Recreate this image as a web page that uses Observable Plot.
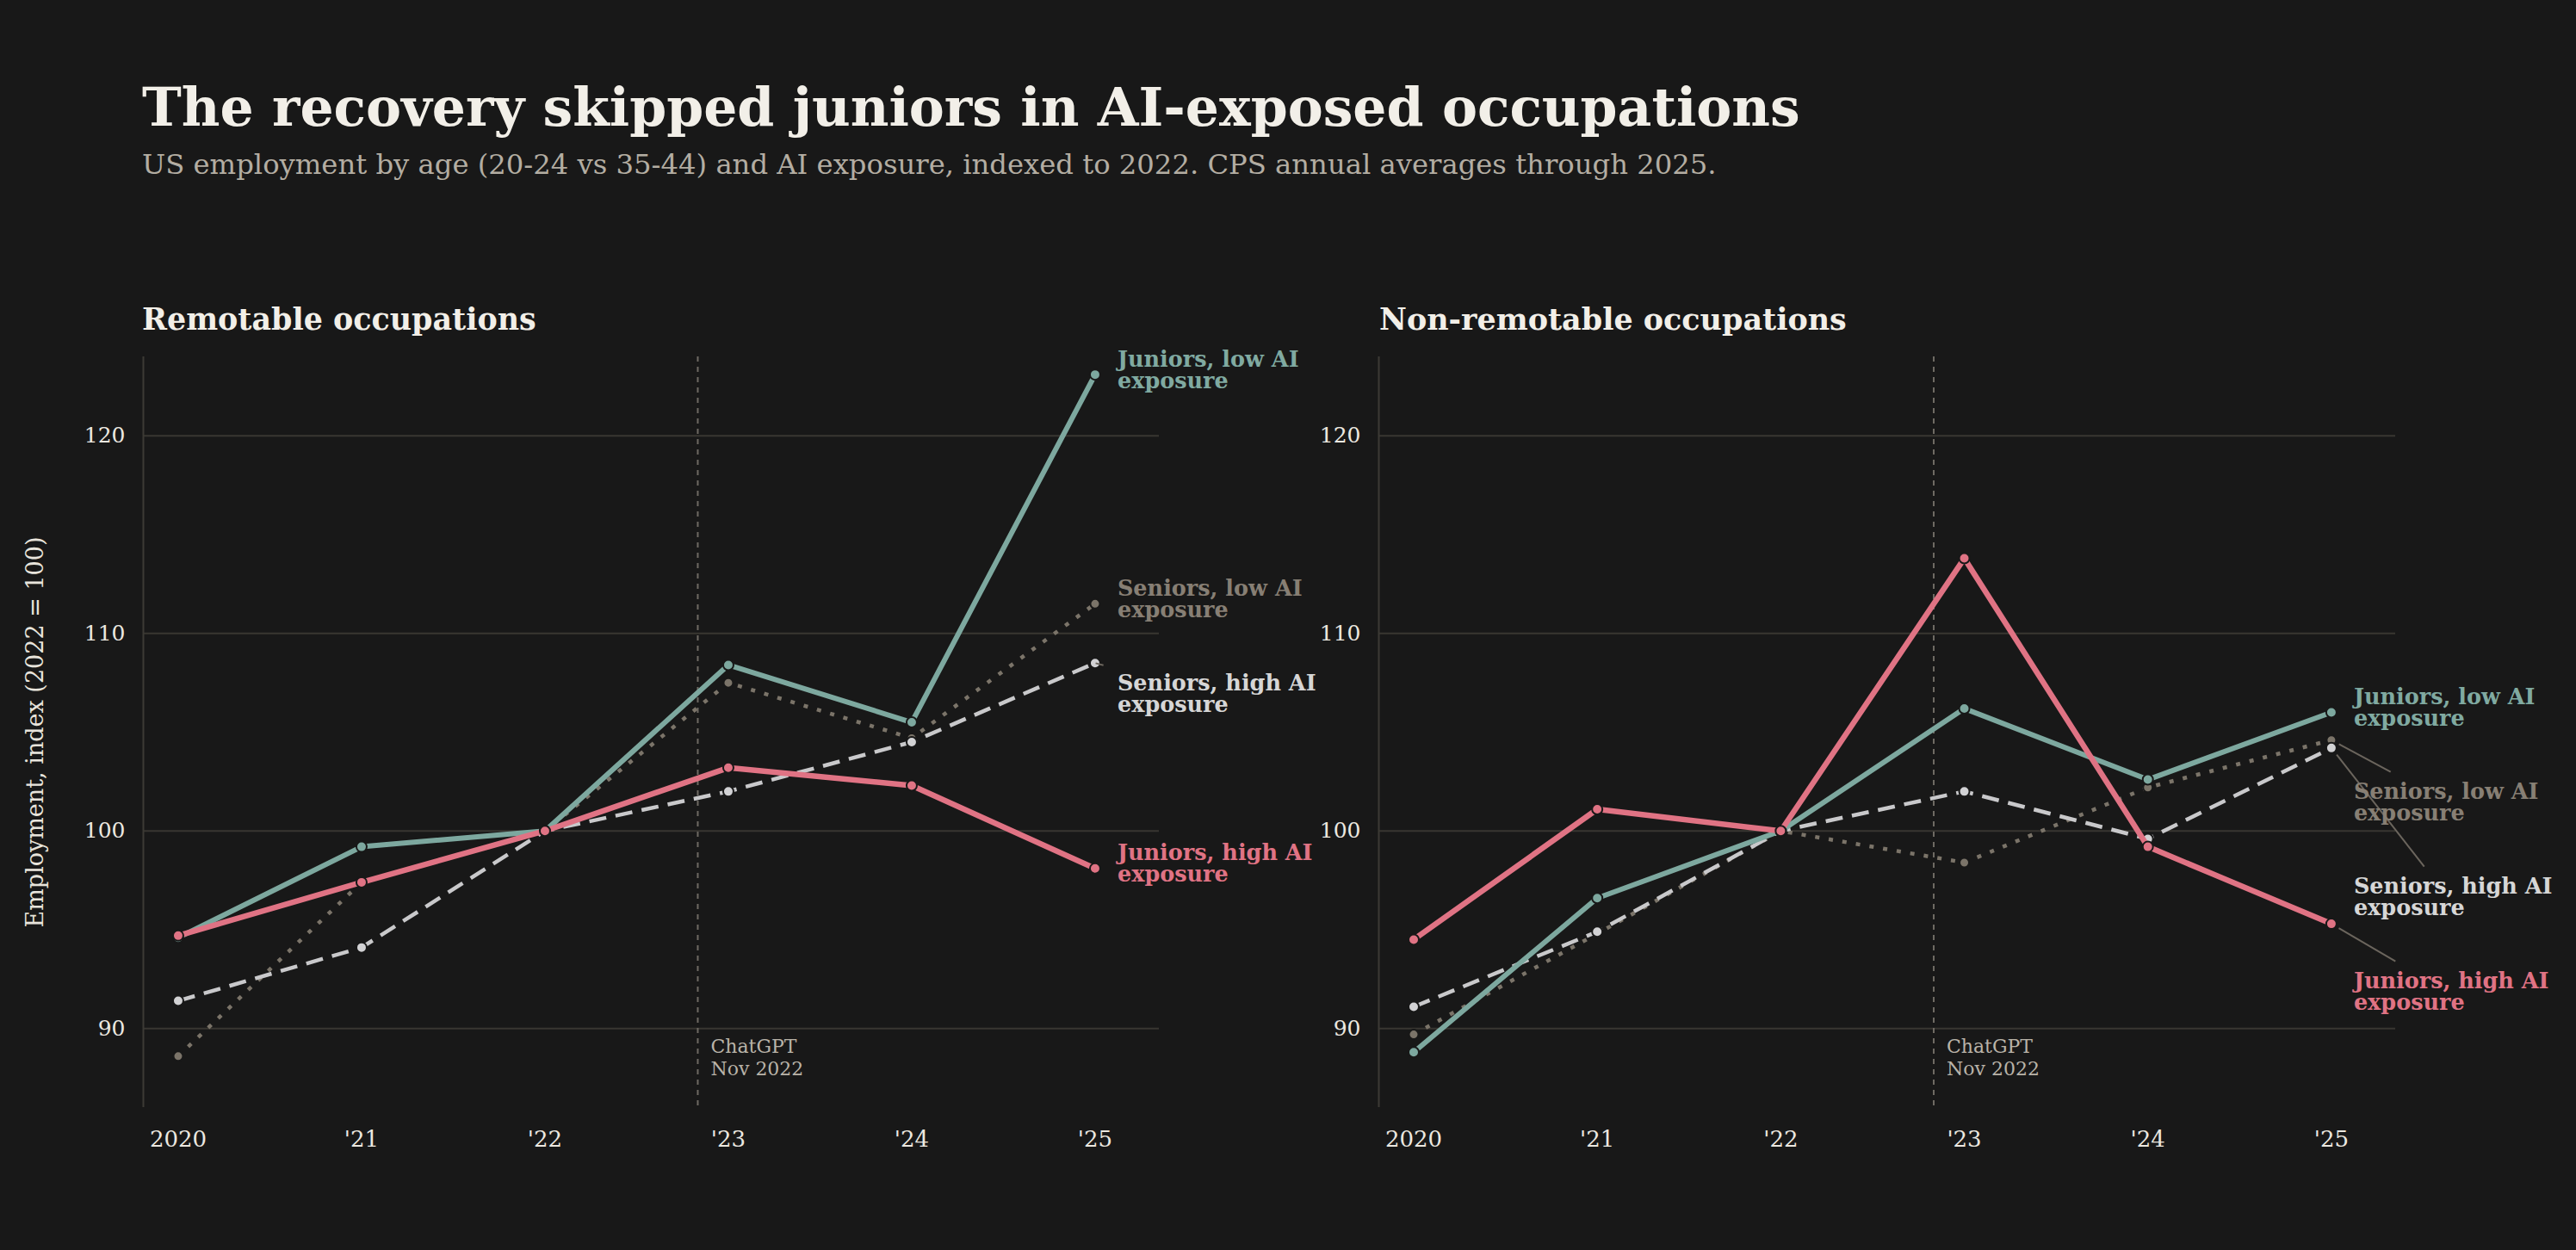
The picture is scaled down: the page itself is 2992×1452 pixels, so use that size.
<!DOCTYPE html>
<html><head><meta charset="utf-8">
<script src="https://cdn.jsdelivr.net/npm/d3@7"></script>
<script src="https://cdn.jsdelivr.net/npm/@observablehq/plot@0.6"></script>
<style>
html,body{margin:0;padding:0;background:#181818;}
#page{position:relative;width:2992px;height:1452px;background:#181818;overflow:hidden;}
#page svg{position:absolute;}
</style></head>
<body><div id="page"></div>
<script>
// ---------- data ----------
const years = [2020, 2021, 2022, 2023, 2024, 2025];
const xTickLabels = ["2020", "'21", "'22", "'23", "'24", "'25"];
const yTicks = [90, 100, 110, 120];

const remoteSeniorsLow   = [88.6, 97.4, 100, 107.5, 104.7, 111.5];
const remoteSeniorsHigh  = [91.4, 94.1, 100, 102.0, 104.5, 108.5];
const remoteJuniorsLow   = [94.6, 99.2, 100, 108.4, 105.5, 123.1];
const remoteJuniorsHigh  = [94.7, 97.4, 100, 103.2, 102.3, 98.1];

const nonremoteSeniorsLow  = [89.7, 94.8, 100, 98.4, 102.2, 104.6];
const nonremoteSeniorsHigh = [91.1, 94.9, 100, 102.0, 99.6, 104.2];
const nonremoteJuniorsLow  = [88.8, 96.6, 100, 106.2, 102.6, 106.0];
const nonremoteJuniorsHigh = [94.5, 101.1, 100, 113.8, 99.2, 95.3];

const seriesKeys = ["seniorsLow", "seniorsHigh", "juniorsLow", "juniorsHigh"];
const seriesLabels = ["Seniors, low AI\nexposure", "Seniors, high AI\nexposure", "Juniors, low AI\nexposure", "Juniors, high AI\nexposure"];

const chatgptDate = 2022 + 10 / 12;
const chatgptLabel = "ChatGPT\nNov 2022";

const titleText = "The recovery skipped juniors in AI-exposed occupations";
const subtitleText = "US employment by age (20-24 vs 35-44) and AI exposure, indexed to 2022. CPS annual averages through 2025.";
const panelTitles = ["Remotable occupations", "Non-remotable occupations"];
const yLabel = "Employment, index (2022 = 100)";

// ---------- style ----------
const FONT = "'DejaVu Serif', Georgia, serif";
const BG = "#181818";
const styles = {
  seniorsLow:  {stroke: "#7b7469", width: 4.5, dash: "5,11", dot: "#7b7469", text: "#877f74", r: 5.5},
  seniorsHigh: {stroke: "#c9c9cb", width: 4.5, dash: "20,11", dot: "#d2d2d4", text: "#d6d6d6", r: 6},
  juniorsLow:  {stroke: "#7da89f", width: 6,   dash: null, dot: "#7da89f", text: "#80aaa1", r: 6},
  juniorsHigh: {stroke: "#e07384", width: 6.5, dash: null, dot: "#e07384", text: "#e07384", r: 6}
};
const xDomain = [2019.81, 2025.35];
const yDomain = [86, 124];
const H = 946, M = {top: 14, bottom: 60, left: 166};
const GAP = 110;

const page = document.getElementById("page");

function fitSize(text, weight, target) {
  const ctx = document.createElement("canvas").getContext("2d");
  ctx.font = `${weight} 100px ${FONT}`;
  return 100 * target / ctx.measureText(text).width;
}

// header
const hdr = d3.create("svg").attr("width", 2992).attr("height", 400)
  .style("left", "0px").style("top", "0px").style("font-family", FONT);
hdr.append("text").attr("x", 165).attr("y", 146).attr("fill", "#f2efe8").attr("font-weight", "bold")
  .attr("font-size", fitSize(titleText, "bold", 1926)).text(titleText);
hdr.append("text").attr("x", 165).attr("y", 202).attr("fill", "#b3ada2")
  .attr("font-size", fitSize(subtitleText, "normal", 1829)).text(subtitleText);
hdr.append("text").attr("x", 165).attr("y", 383).attr("fill", "#f2efe8").attr("font-weight", "bold")
  .attr("font-size", fitSize(panelTitles[0], "bold", 458)).text(panelTitles[0]);
hdr.append("text").attr("x", 1602).attr("y", 383).attr("fill", "#f2efe8").attr("font-weight", "bold")
  .attr("font-size", fitSize(panelTitles[1], "bold", 543)).text(panelTitles[1]);
page.appendChild(hdr.node());

function panel(vals, width, marginRight, left, showYLabel) {
  const xs = d3.scaleLinear(xDomain, [M.left, width - marginRight]);
  const ys = d3.scaleLinear(yDomain, [H - M.bottom, M.top]);
  const rows = [];
  seriesKeys.forEach(k => years.forEach((yr, i) => rows.push({series: k, year: yr, value: vals[k][i]})));

  // end labels with simple dodge
  const ends = seriesKeys.map((k, j) => {
    const v = vals[k][vals[k].length - 1];
    return {k, label: seriesLabels[j], v, py: ys(v)};
  }).sort((a, b) => a.py - b.py);
  let prev = -Infinity;
  for (const e of ends) { e.ly = Math.max(e.py - 5, prev + GAP); prev = e.ly; e.lyData = ys.invert(e.ly); }
  const px = xs(years[years.length - 1]);
  const links = [];
  for (const e of ends) {
    if (e.ly - (e.py - 5) > 8) {
      const dxp = 136, dyp = e.ly - e.py, len = Math.hypot(dxp, dyp);
      const sx = px + 10 * dxp / len, sy = e.py + 10 * dyp / len;
      const ey = e.ly - 36, t = (ey - e.py) / dyp;
      const ex = px + t * dxp;
      links.push({x1: xs.invert(sx), y1: ys.invert(sy), x2: xs.invert(ex), y2: ys.invert(ey)});
    }
  }

  const marks = [
    Plot.ruleY(yTicks, {stroke: "#383631", strokeWidth: 2}),
    Plot.ruleX([xDomain[0]], {stroke: "#3c3a35", strokeWidth: 2}),
    Plot.ruleX([chatgptDate], {stroke: "#6e6a63", strokeWidth: 2, strokeDasharray: "6,6"}),
    Plot.text([chatgptLabel], {x: chatgptDate, text: d => d, frameAnchor: "bottom", textAnchor: "start", lineAnchor: "top",
      dx: 15, dy: -82, fontSize: 22, lineHeight: 1.18, fill: "#b9b3a8"}),
    Plot.axisX(years, {tickSize: 0, tickPadding: 27, fontSize: 26, label: null,
      tickFormat: d => xTickLabels[years.indexOf(d)]}),
    Plot.axisY(yTicks, {tickSize: 0, tickPadding: 21, fontSize: 25, label: null})
  ];
  if (showYLabel) {
    marks.push(Plot.text([yLabel], {text: d => d, frameAnchor: "left", textAnchor: "middle", rotate: -90, dx: -125,
      fontSize: 27, fill: "#e8e4dc"}));
  }
  for (const k of seriesKeys) {
    const s = styles[k];
    const data = rows.filter(r => r.series === k);
    marks.push(Plot.line(data, {x: "year", y: "value", stroke: s.stroke, strokeWidth: s.width,
      strokeDasharray: s.dash || undefined, strokeLinecap: "butt", strokeLinejoin: "round"}));
    marks.push(Plot.dot(data, {x: "year", y: "value", r: s.r, fill: s.dot, stroke: BG, strokeWidth: 2}));
  }
  marks.push(Plot.link(links, {x1: "x1", y1: "y1", x2: "x2", y2: "y2", stroke: "#6b655d", strokeWidth: 2}));
  for (const e of ends) {
    marks.push(Plot.text([e], {x: () => years[years.length - 1], y: "lyData", text: "label",
      fill: styles[e.k].text, textAnchor: "start", dx: 26, fontSize: 25.5, fontWeight: "bold",
      lineHeight: 0.98, lineAnchor: "middle"}));
  }

  const svg = Plot.plot({
    width, height: H, marginLeft: M.left, marginRight, marginTop: M.top, marginBottom: M.bottom,
    x: {domain: xDomain}, y: {domain: yDomain},
    style: {fontFamily: FONT, background: "transparent", color: "#ece8e0", overflow: "visible"},
    marks
  });
  svg.style.left = left + "px";
  svg.style.top = "400px";
  page.appendChild(svg);
}

panel({seniorsLow: remoteSeniorsLow, seniorsHigh: remoteSeniorsHigh, juniorsLow: remoteJuniorsLow, juniorsHigh: remoteJuniorsHigh},
  1435, 89, 0, true);
panel({seniorsLow: nonremoteSeniorsLow, seniorsHigh: nonremoteSeniorsHigh, juniorsLow: nonremoteJuniorsLow, juniorsHigh: nonremoteJuniorsHigh},
  1557, 210, 1435, false);
</script></body></html>
